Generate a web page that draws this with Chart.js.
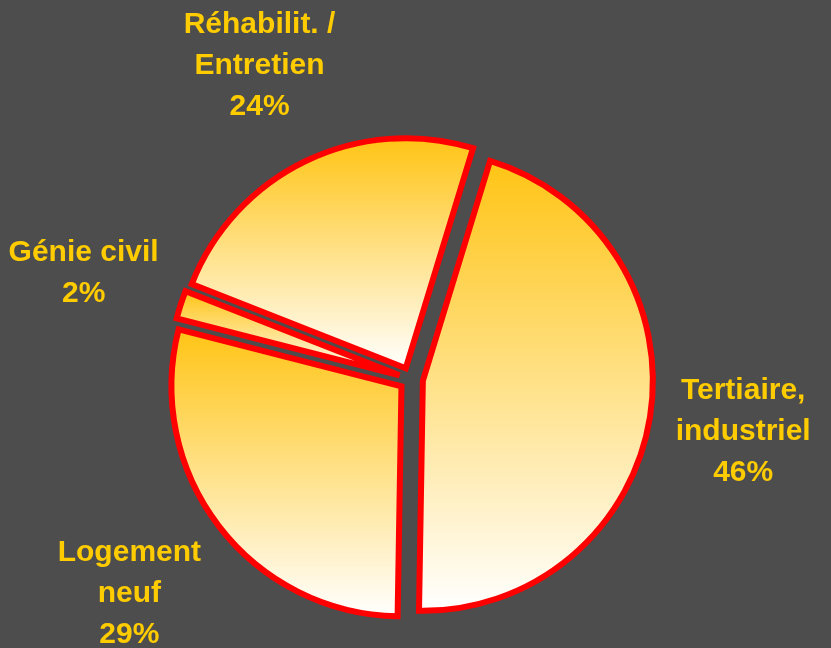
<!DOCTYPE html>
<html>
<head>
<meta charset="utf-8">
<script src="https://cdn.jsdelivr.net/npm/chart.js@4"></script>
<style>
html, body { margin: 0; padding: 0; background: #4d4d4d; overflow: hidden; }
#wrap { width: 831px; height: 648px; }
</style>
</head>
<body>
<div id="wrap"><canvas id="c" width="831" height="648"></canvas></div>
<script>
// ---- data ----
const categories = [
  ['Tertiaire,', 'industriel'],
  ['Logement', 'neuf'],
  ['Génie civil'],
  ['Réhabilit. /', 'Entretien']
];
const shares = [46, 29, 2, 24];
const percentLabels = ['46%', '29%', '2%', '24%'];

// ---- style ----
const EXPLODE = 12;
const LABEL_GAP = 30;
const LINE_H = 41;
const LABEL_FONT = 'bold 30px "Liberation Sans", Arial, sans-serif';
const LABEL_COLOR = '#FFCC00';
const GRAD_TOP = '#FFC414';
const GRAD_BOTTOM = '#FFFFFF';

const explodePlugin = {
  id: 'explodeGradient',
  beforeDatasetDraw(chart, args) {
    const ctx = chart.ctx;
    const TAU = Math.PI * 2;
    args.meta.data.forEach((el) => {
      const mid = (el.startAngle + el.endAngle) / 2;
      const R = el.outerRadius;
      const ys = [el.y, el.y + Math.sin(el.startAngle) * R, el.y + Math.sin(el.endAngle) * R];
      [Math.PI / 2, -Math.PI / 2].forEach((a) => {
        let t = a;
        while (t > el.startAngle) t -= TAU;
        while (t < el.startAngle) t += TAU;
        if (t <= el.endAngle) ys.push(el.y + Math.sin(a) * R);
      });
      const top = Math.min(...ys), bot = Math.max(...ys);
      const g = ctx.createLinearGradient(0, top, 0, bot);
      g.addColorStop(0, GRAD_TOP);
      g.addColorStop(1, GRAD_BOTTOM);
      el.options = Object.assign({}, el.options, { backgroundColor: g });
      ctx.save();
      ctx.translate(Math.cos(mid) * EXPLODE, Math.sin(mid) * EXPLODE);
      el.draw(ctx);
      ctx.restore();
    });
    return false;
  }
};

const labelPlugin = {
  id: 'outsideLabels',
  afterDraw(chart) {
    const ctx = chart.ctx;
    const meta = chart.getDatasetMeta(0);
    ctx.save();
    ctx.font = LABEL_FONT;
    ctx.fillStyle = LABEL_COLOR;
    ctx.textAlign = 'center';
    ctx.textBaseline = 'middle';
    meta.data.forEach((el, i) => {
      const lines = categories[i].concat([percentLabels[i]]);
      const w = Math.max(...lines.map((l) => ctx.measureText(l).width));
      const hw = w / 2, hh = lines.length * LINE_H / 2;
      const mid = (el.startAngle + el.endAngle) / 2;
      const c = Math.cos(mid), s = Math.sin(mid);
      const dist = el.outerRadius + LABEL_GAP + Math.abs(c) * hw + Math.abs(s) * hh;
      const cx = el.x + c * dist, cy = el.y + s * dist;
      lines.forEach((l, k) => {
        ctx.fillText(l, cx, cy + (k - (lines.length - 1) / 2) * LINE_H);
      });
    });
    ctx.restore();
  }
};

new Chart(document.getElementById('c'), {
  type: 'pie',
  data: {
    labels: categories.map((c) => c.join(' ')),
    datasets: [{
      data: shares,
      backgroundColor: GRAD_TOP,
      borderColor: '#FF0000',
      borderWidth: 6,
      borderJoinStyle: 'miter',
      offset: 0,
      hoverOffset: 0
    }]
  },
  options: {
    responsive: false,
    animation: false,
    events: [],
    rotation: 17,
    radius: 230,
    layout: { padding: { left: 0, right: 9, top: 110, bottom: 0 } },
    plugins: {
      legend: { display: false },
      tooltip: { enabled: false }
    }
  },
  plugins: [explodePlugin, labelPlugin]
});
</script>
</body>
</html>
